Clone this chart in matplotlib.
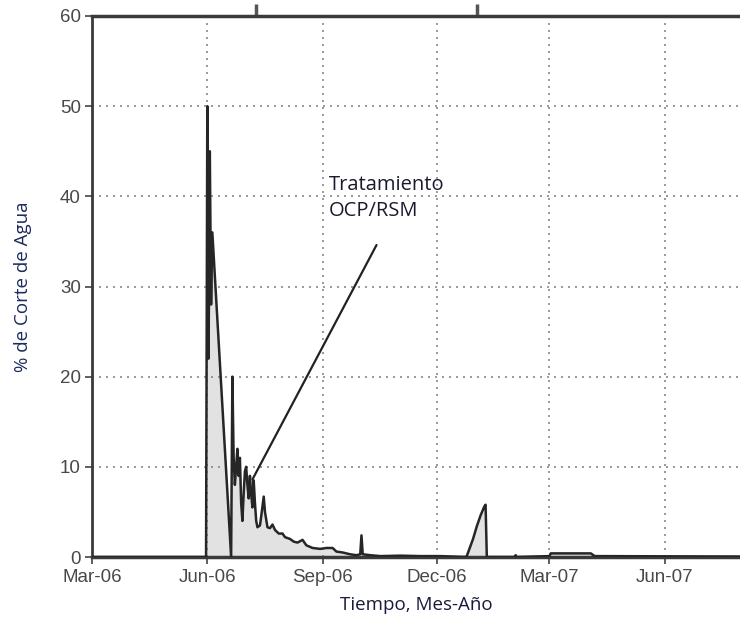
import matplotlib
matplotlib.use("Agg")
import matplotlib.pyplot as plt
import pandas as pd

# ---------------- data ----------------
dates = [
    "2006-03-01", "2006-05-31", "2006-06-01", "2006-06-02", "2006-06-03", "2006-06-04",
    "2006-06-05", "2006-06-20", "2006-06-21", "2006-06-22", "2006-06-23", "2006-06-24",
    "2006-06-25", "2006-06-26", "2006-06-27", "2006-06-28", "2006-06-29", "2006-06-30",
    "2006-07-01", "2006-07-02", "2006-07-03", "2006-07-04", "2006-07-05", "2006-07-06",
    "2006-07-07", "2006-07-08", "2006-07-09", "2006-07-10", "2006-07-11", "2006-07-13",
    "2006-07-14", "2006-07-16", "2006-07-17", "2006-07-19", "2006-07-21", "2006-07-23",
    "2006-07-25", "2006-07-28", "2006-07-31", "2006-08-02", "2006-08-06", "2006-08-09",
    "2006-08-12", "2006-08-16", "2006-08-19", "2006-08-24", "2006-08-30", "2006-09-04",
    "2006-09-09", "2006-09-12", "2006-09-17", "2006-09-23", "2006-09-28", "2006-10-01",
    "2006-10-02", "2006-10-03", "2006-10-09", "2006-10-17", "2006-11-02", "2006-11-18",
    "2006-12-04", "2006-12-24", "2006-12-25", "2006-12-30", "2007-01-02", "2007-01-05",
    "2007-01-08", "2007-01-09", "2007-01-10", "2007-02-01", "2007-02-02", "2007-02-03",
    "2007-03-01", "2007-03-02", "2007-04-03", "2007-04-06", "2007-07-31",
]
water_cut = [
    0, 0, 50, 22, 45, 28,
    36, 0, 20, 11, 8, 10,
    12, 9, 11, 6, 4, 7,
    9.5, 10, 8, 6.5, 9, 7,
    5.5, 8.5, 6, 4, 3.3, 3.5,
    4.5, 6.7, 5, 3.3, 3.2, 3.6,
    3.0, 2.6, 2.6, 2.2, 2.0, 1.7,
    1.6, 1.9, 1.3, 1.0, 0.9, 1.0,
    1.0, 0.6, 0.5, 0.3, 0.2, 0.3,
    2.4, 0.3, 0.2, 0.1, 0.15, 0.1,
    0.1, 0.0, 0.1, 2.0, 3.4, 4.6,
    5.6, 5.8, 0, 0, 0.2, 0,
    0.1, 0.4, 0.4, 0.1, 0.05,
]

tick_dates = ["2006-03-01", "2006-06-01", "2006-09-01", "2006-12-01", "2007-03-01", "2007-06-01"]
tick_labels = ["Mar-06", "Jun-06", "Sep-06", "Dec-06", "Mar-07", "Jun-07"]
y_ticks = [0, 10, 20, 30, 40, 50, 60]
top_tick_dates = ["2006-07-10", "2007-01-02"]

# ---------------- plot ----------------
x = pd.to_datetime(dates)
fig = plt.figure(figsize=(7.4, 6.25), dpi=100)
ax = fig.add_axes([92 / 740, 1 - 557 / 625, 1 - 92 / 740, (557 - 16) / 625])

ax.fill_between(x, water_cut, 0, color="#e2e2e2", lw=0, zorder=1)
ax.plot(x, water_cut, color="#262626", lw=1.8, zorder=3)

ax.set_xlim(pd.Timestamp("2006-03-01"), pd.Timestamp("2007-07-31"))
ax.set_ylim(0, 60)

ax.set_xticks(pd.to_datetime(tick_dates))
ax.set_xticklabels(tick_labels)
ax.set_yticks(y_ticks)

tick_color = "#484848"
for lab in ax.get_xticklabels() + ax.get_yticklabels():
    lab.set_fontfamily("Liberation Sans")
    lab.set_fontsize(13.5)
    lab.set_color(tick_color)
ax.tick_params(axis="both", direction="out", length=5, width=1.2, color="#444444")
ax.tick_params(axis="x", pad=4)
ax.tick_params(axis="y", pad=3)

ax.grid(True, linestyle=(0, (1.2, 3)), color="#888888", lw=1.2, zorder=0)

for side in ["left", "top", "bottom"]:
    ax.spines[side].set_color("#3a3a3a")
ax.spines["left"].set_linewidth(2)
ax.spines["top"].set_linewidth(2.5)
ax.spines["bottom"].set_linewidth(2.5)
ax.spines["right"].set_visible(False)

# top stray tick marks
sec = ax.secondary_xaxis("top")
sec.set_xticks(pd.to_datetime(top_tick_dates))
sec.set_xticklabels(["", ""])
sec.tick_params(direction="out", length=9, width=2.5, color="#555555")
sec.spines["top"].set_visible(False)

ax.set_ylabel("% de Corte de Agua", family="Open Sans", fontsize=13.5, color="#1c2a5c", labelpad=20)
ax.set_xlabel("Tiempo, Mes-Año", family="Open Sans", fontsize=13.5, color="#1a1a3a", labelpad=7)

# annotation
ax.annotate("", xy=(pd.Timestamp("2006-07-07"), 8.6), xytext=(pd.Timestamp("2006-10-14"), 34.6),
            arrowprops=dict(arrowstyle="-", color="#222222", lw=1.6, shrinkA=0, shrinkB=0), zorder=4)
ax.text(pd.Timestamp("2006-09-06"), 42.4, "Tratamiento\nOCP/RSM", family="Open Sans",
        fontsize=14.5, color="#1a1a2e", va="top", ha="left", linespacing=1.4)

fig.savefig("out.png", dpi=100)
